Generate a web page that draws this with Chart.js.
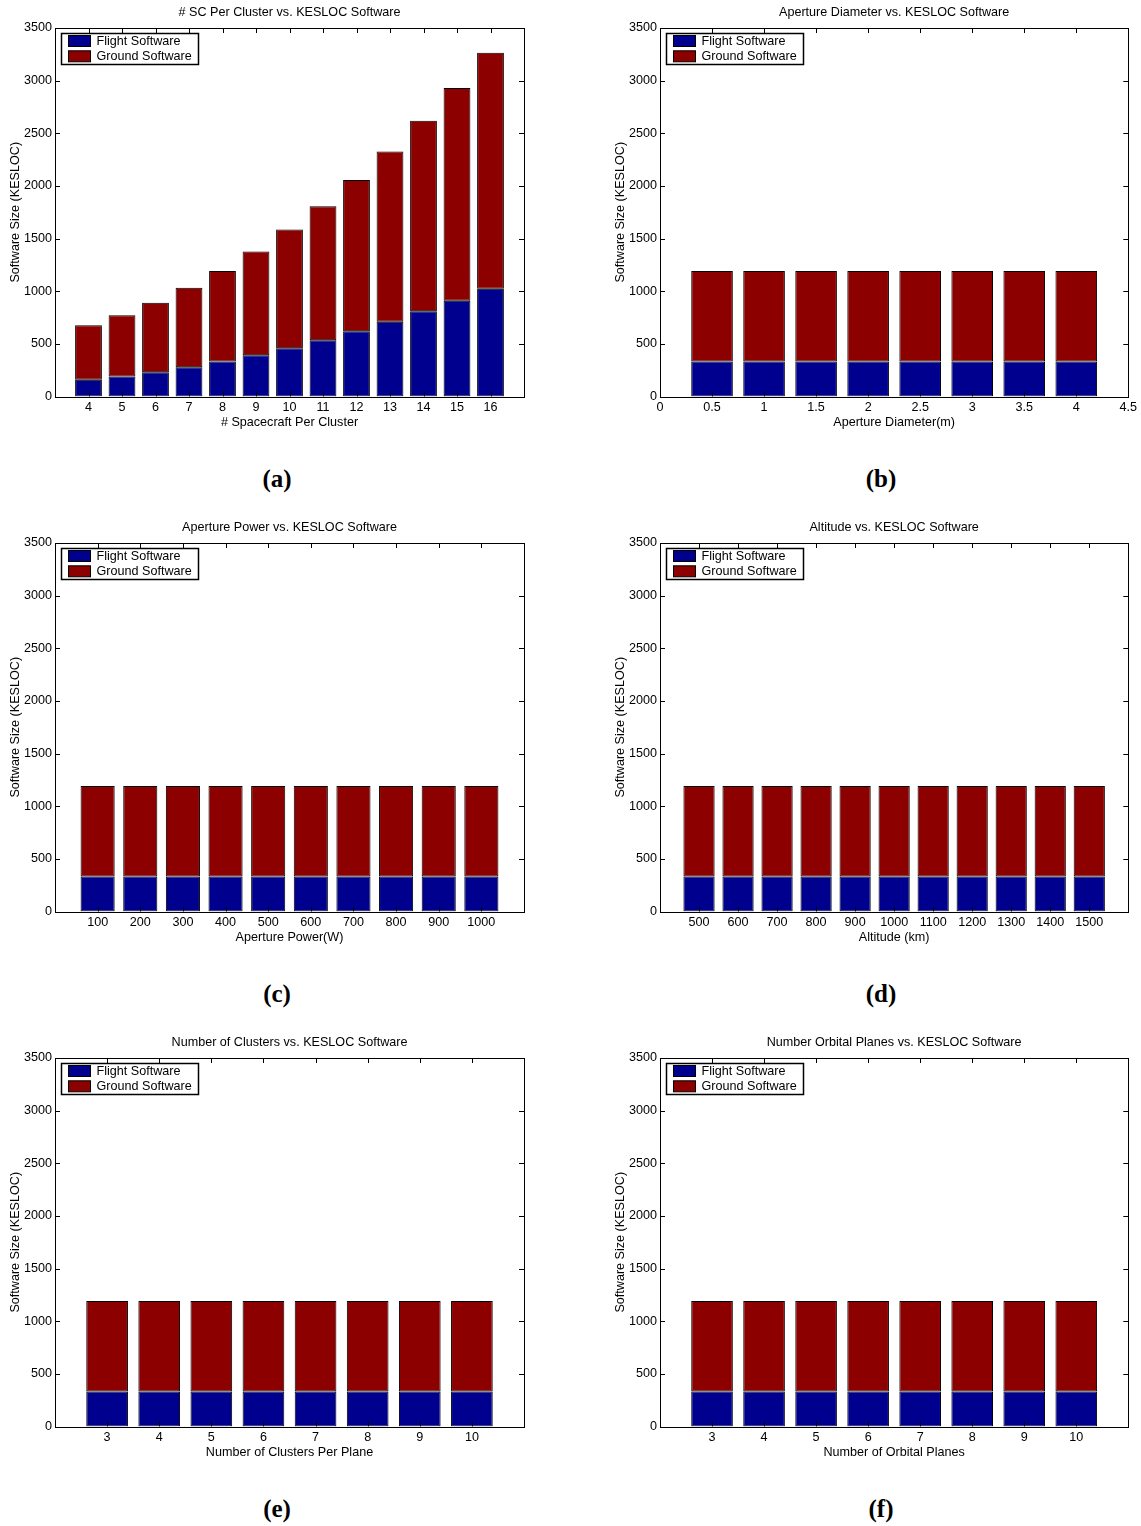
<!DOCTYPE html>
<html>
<head>
<meta charset="utf-8">
<script src="https://cdn.jsdelivr.net/npm/chart.js@4.4.1/dist/chart.umd.min.js"></script>
<style>
  html, body { margin:0; padding:0; background:#fff; }
  #page { position:relative; width:1141px; height:1526px; overflow:hidden; background:#fff; }
  #page canvas { position:absolute; }
  .tag { position:absolute; width:100px; height:26px; line-height:26px; text-align:center;
         font:bold 25px "Liberation Serif","Times New Roman",serif; color:#000; }
</style>
</head>
<body>
<div id="page"></div>
<script>
// ── Software size sweeps (KESLOC) ─────────────────────────────
const scCount   = [4, 5, 6, 7, 8, 9, 10, 11, 12, 13, 14, 15, 16];
const scFlight  = [158, 190, 231, 278, 332, 392, 458, 534, 619, 711, 809, 910, 1023];
const scGround  = [518, 581, 660, 755, 859, 985, 1128, 1273, 1437, 1617, 1809, 2021, 2243];

const diameterM      = [0.5, 1, 1.5, 2, 2.5, 3, 3.5, 4];
const diameterTicks  = [0, 0.5, 1, 1.5, 2, 2.5, 3, 3.5, 4, 4.5];
const diameterFlight = [332, 332, 332, 332, 332, 332, 332, 332];
const diameterGround = [860, 860, 860, 860, 860, 860, 860, 860];

const powerW      = [100, 200, 300, 400, 500, 600, 700, 800, 900, 1000];
const powerFlight = [332, 332, 332, 332, 332, 332, 332, 332, 332, 332];
const powerGround = [860, 860, 860, 860, 860, 860, 860, 860, 860, 860];

const altitudeKm     = [500, 600, 700, 800, 900, 1000, 1100, 1200, 1300, 1400, 1500];
const altitudeFlight = [332, 332, 332, 332, 332, 332, 332, 332, 332, 332, 332];
const altitudeGround = [860, 860, 860, 860, 860, 860, 860, 860, 860, 860, 860];

const clustersPerPlane = [3, 4, 5, 6, 7, 8, 9, 10];
const clustersFlight   = [332, 332, 332, 332, 332, 332, 332, 332];
const clustersGround   = [860, 860, 860, 860, 860, 860, 860, 860];

const orbitalPlanes = [3, 4, 5, 6, 7, 8, 9, 10];
const planesFlight  = [332, 332, 332, 332, 332, 332, 332, 332];
const planesGround  = [860, 860, 860, 860, 860, 860, 860, 860];

const sizeTicks = [0, 500, 1000, 1500, 2000, 2500, 3000, 3500];
const seriesNames = ['Flight Software', 'Ground Software'];

const BLUE = '#00008f';
const RED  = '#8c0000';
const FONT = '"Liberation Sans", Arial, Helvetica, sans-serif';
const FSIZE = 12.6;

Chart.defaults.font.family = FONT;
Chart.defaults.font.size = FSIZE;
Chart.defaults.color = '#000';

// ── Panels ────────────────────────────────────────────────────
const panels = [
  { tag:'(a)', title:'# SC Per Cluster vs. KESLOC Software', xLabel:'# Spacecraft Per Cluster',
    xs:scCount, flight:scFlight, ground:scGround, ticks:scCount, min:3, max:17, col:0, row:0 },
  { tag:'(b)', title:'Aperture Diameter vs. KESLOC Software', xLabel:'Aperture Diameter(m)',
    xs:diameterM, flight:diameterFlight, ground:diameterGround, ticks:diameterTicks, min:0, max:4.5, col:1, row:0 },
  { tag:'(c)', title:'Aperture Power vs. KESLOC Software', xLabel:'Aperture Power(W)',
    xs:powerW, flight:powerFlight, ground:powerGround, ticks:powerW, min:0, max:1100, col:0, row:1 },
  { tag:'(d)', title:'Altitude vs. KESLOC Software', xLabel:'Altitude (km)',
    xs:altitudeKm, flight:altitudeFlight, ground:altitudeGround, ticks:altitudeKm, min:400, max:1600, col:1, row:1 },
  { tag:'(e)', title:'Number of Clusters vs. KESLOC Software', xLabel:'Number of Clusters Per Plane',
    xs:clustersPerPlane, flight:clustersFlight, ground:clustersGround, ticks:clustersPerPlane, min:2, max:11, col:0, row:2 },
  { tag:'(f)', title:'Number Orbital Planes vs. KESLOC Software', xLabel:'Number of Orbital Planes',
    xs:orbitalPlanes, flight:planesFlight, ground:planesGround, ticks:orbitalPlanes, min:2, max:11, col:1, row:2 },
];

// canvas placement per column / row
const COLS = [ { left:0, width:540, padRight:16, tagX:227 }, { left:605, width:536, padRight:12.7, tagX:831 } ];
const ROW_TOP = [0, 515, 1030];
const CANVAS_H = 440;

// Box, inward ticks, title and legend drawn like a MATLAB axes
const matlabAxes = {
  id: 'matlabAxes',
  afterDatasetsDraw(chart) {
    const { ctx, chartArea: a, scales: { x, y } } = chart;
    ctx.save();
    ctx.strokeStyle = '#000';
    ctx.lineWidth = 1;
    ctx.beginPath();
    y.ticks.forEach(t => {
      const py = Math.round(y.getPixelForValue(t.value)) + 0.5;
      ctx.moveTo(a.left, py);  ctx.lineTo(a.left + 5, py);
      ctx.moveTo(a.right, py); ctx.lineTo(a.right - 5, py);
    });
    x.ticks.forEach(t => {
      const px = Math.round(x.getPixelForValue(t.value)) + 0.5;
      ctx.moveTo(px, a.top);    ctx.lineTo(px, a.top + 5);
      ctx.moveTo(px, a.bottom); ctx.lineTo(px, a.bottom - 5);
    });
    ctx.stroke();
    ctx.strokeRect(Math.round(a.left) + 0.5, Math.round(a.top) + 0.5,
                   Math.round(a.right) - Math.round(a.left), Math.round(a.bottom) - Math.round(a.top));
    ctx.restore();
  },
  afterDraw(chart, args, opts) {
    const { ctx, chartArea: a } = chart;
    ctx.save();
    ctx.fillStyle = '#000';
    ctx.font = FSIZE + 'px ' + FONT;
    ctx.textAlign = 'center';
    ctx.textBaseline = 'middle';
    ctx.fillText(opts.title, (a.left + a.right) / 2, a.top - 15);

    // legend box, top-left inside the axes
    const lx = Math.round(a.left) + 6.5, ly = Math.round(a.top) + 5.5;
    ctx.fillStyle = '#fff';
    ctx.fillRect(lx, ly, 137, 31);
    ctx.strokeStyle = '#000';
    ctx.lineWidth = 1.5;
    ctx.strokeRect(lx, ly, 137, 31);
    ctx.lineWidth = 1;
    ctx.textAlign = 'left';
    chart.data.datasets.forEach((ds, i) => {
      const sy = ly + 2 + i * 15.3;
      ctx.fillStyle = ds.backgroundColor;
      ctx.fillRect(lx + 7, sy, 22, 11);
      ctx.strokeRect(lx + 7, sy, 22, 11);
      ctx.fillStyle = '#000';
      ctx.fillText(ds.label, lx + 35, sy + 6);
    });
    ctx.restore();
  }
};

const page = document.getElementById('page');

panels.forEach(p => {
  const col = COLS[p.col];
  const top = ROW_TOP[p.row];

  const cv = document.createElement('canvas');
  cv.width = col.width;
  cv.height = CANVAS_H;
  cv.style.left = col.left + 'px';
  cv.style.top = top + 'px';
  page.appendChild(cv);

  const tag = document.createElement('div');
  tag.className = 'tag';
  tag.textContent = p.tag;
  tag.style.left = col.tagX + 'px';
  tag.style.top = (top + 465) + 'px';
  page.appendChild(tag);

  new Chart(cv.getContext('2d'), {
    type: 'bar',
    data: {
      datasets: [
        { label: seriesNames[0], data: p.xs.map((v, i) => ({ x: v, y: p.flight[i] })),
          backgroundColor: BLUE, borderColor: '#000', borderWidth: 1, borderSkipped: false,
          barPercentage: 0.8, categoryPercentage: 1 },
        { label: seriesNames[1], data: p.xs.map((v, i) => ({ x: v, y: p.ground[i] })),
          backgroundColor: RED, borderColor: '#000', borderWidth: 1, borderSkipped: false,
          barPercentage: 0.8, categoryPercentage: 1 },
      ]
    },
    options: {
      responsive: false,
      animation: false,
      events: [],
      layout: { padding: { left: 0, top: 28, right: col.padRight, bottom: 10 } },
      plugins: {
        legend: { display: false },
        tooltip: { enabled: false },
        matlabAxes: { title: p.title },
      },
      scales: {
        x: {
          type: 'linear', stacked: true, offset: false,
          min: p.min, max: p.max,
          grid: { display: false, drawTicks: false },
          border: { display: false },
          ticks: { padding: 3, autoSkip: false, maxRotation: 0, callback: v => String(v) },
          afterBuildTicks: s => { s.ticks = p.ticks.map(v => ({ value: v })); },
          afterFit: s => { s.height = 33.5; },
          title: { display: true, text: p.xLabel, padding: { top: 0, bottom: 0 } },
        },
        y: {
          stacked: true, min: 0, max: 3500,
          grid: { display: false, drawTicks: false },
          border: { display: false },
          ticks: { padding: 3, callback: v => String(v) },
          afterBuildTicks: s => { s.ticks = sizeTicks.map(v => ({ value: v })); },
          afterFit: s => { s.width = 55; },
          title: { display: true, text: 'Software Size (KESLOC)', padding: { top: 7.5, bottom: 0 } },
        },
      },
    },
    plugins: [matlabAxes],
  });
});
</script>
</body>
</html>
